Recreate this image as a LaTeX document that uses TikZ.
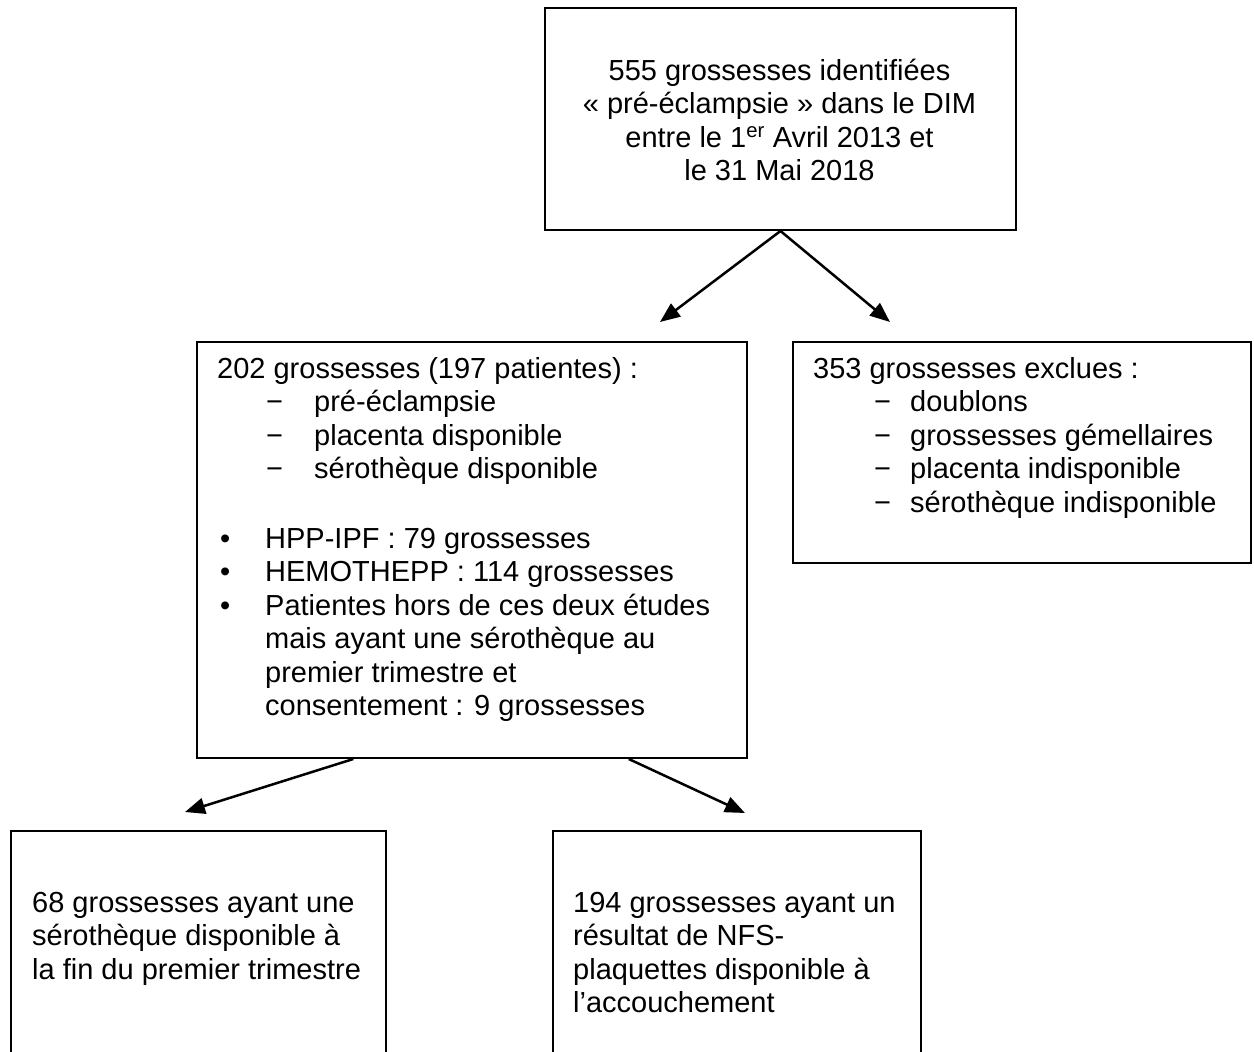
\documentclass[tikz,border=0pt]{standalone}
\usepackage{fontspec}
\setmainfont{Liberation Sans}
\usetikzlibrary{arrows.meta,calc}
\begin{document}
\begin{tikzpicture}[x=1pt,y=-1pt,
  box/.style={draw=black, line width=2pt, rectangle, inner sep=0pt, anchor=north west},
  txt/.style={inner sep=0pt, font=\fontsize{29}{33.5}\selectfont, anchor=base west},
  arr/.style={line width=2.5pt, -{Triangle[length=20pt,width=16pt]}}]
\useasboundingbox (0,0) rectangle (1254,1052);
\clip (0,0) rectangle (1254,1052);
% boxes
\node[box, minimum width=471pt, minimum height=222pt] (top) at (544,7) {};
\node[box, minimum width=550pt, minimum height=416pt] (mid) at (196,341) {};
\node[box, minimum width=458pt, minimum height=221pt] (excl) at (792,341) {};
\node[box, minimum width=375pt, minimum height=260pt] (bl) at (10,830) {};
\node[box, minimum width=368pt, minimum height=260pt] (br) at (552,830) {};
% texts
\node[txt, anchor=base] (toptxt) at (779.5,80) {\parbox[t]{460pt}{\centering
555 grossesses identifiées\\
«~pré-éclampsie~» dans le DIM\\
entre le 1\textsuperscript{er} Avril 2013 et\\
le 31 Mai 2018}};
\node[txt] (midtxt) at (217,378) {\parbox[t]{520pt}{%
202 grossesses (197 patientes) :\\
\hspace*{49pt}\makebox[48pt][l]{−}pré-éclampsie\\
\hspace*{49pt}\makebox[48pt][l]{−}placenta disponible\\
\hspace*{49pt}\makebox[48pt][l]{−}sérothèque disponible\\[36pt]
\makebox[48pt][l]{\hspace*{3pt}•}HPP-IPF : 79 grossesses\\
\makebox[48pt][l]{\hspace*{3pt}•}HEMOTHEPP : 114 grossesses\\
\makebox[48pt][l]{\hspace*{3pt}•}Patientes hors de ces deux études\\
\hspace*{48pt}mais ayant une sérothèque au\\
\hspace*{48pt}premier trimestre et\\
\hspace*{48pt}consentement : 9 grossesses}};
\node[txt] (excltxt) at (813,378) {\parbox[t]{430pt}{%
353 grossesses exclues :\\
\hspace*{61pt}\makebox[36pt][l]{−}doublons\\
\hspace*{61pt}\makebox[36pt][l]{−}grossesses gémellaires\\
\hspace*{61pt}\makebox[36pt][l]{−}placenta indisponible\\
\hspace*{61pt}\makebox[36pt][l]{−}sérothèque indisponible}};
\node[txt] (bltxt) at (32,912) {\parbox[t]{350pt}{%
68 grossesses ayant une\\
sérothèque disponible à\\
la fin du premier trimestre}};
\node[txt] (brtxt) at (573,912) {\parbox[t]{350pt}{%
194 grossesses ayant un\\
résultat de NFS-\\
plaquettes disponible à\\
l’accouchement}};
% arrows
\coordinate (tipA) at (660,322);
\coordinate (tipB) at (890,322);
\coordinate (tipC) at (185,812);
\coordinate (tipD) at (745,813);
\draw[arr] (top.south) -- (tipA);
\draw[arr] (top.south) -- (tipB);
\draw[arr] ($(mid.south west)!0.285!(mid.south east)$) -- (tipC);
\draw[arr] ($(mid.south west)!0.784!(mid.south east)$) -- (tipD);
\end{tikzpicture}
\end{document}
